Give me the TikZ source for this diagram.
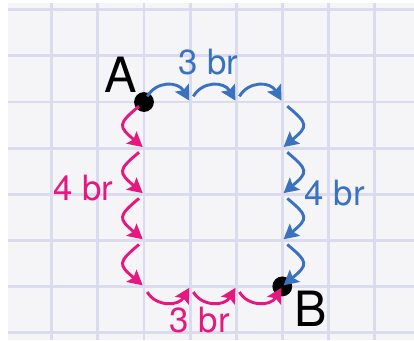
\documentclass[tikz,border=0pt]{standalone}
\usepackage{fontspec}
\setmainfont{TeX Gyre Heros}
\usetikzlibrary{positioning, arrows.meta}
\definecolor{PaperGray}{RGB}{245,245,248}
\definecolor{GridLilac}{RGB}{219,219,240}
\definecolor{RouteBlue}{RGB}{58,114,192}
\definecolor{RoutePink}{RGB}{230,24,128}

\begin{document}
\begin{tikzpicture}[
        hop/.style={
            -{Stealth[length=3.2mm, width=3.4mm, inset=0.6mm]},
            line width=1.8pt,
            shorten <=4pt,
            shorten >=1pt
        },
        flat/.style={bend left=60, looseness=1.35},
        flatdown/.style={bend right=60, looseness=1.3},
        deep/.style={bend left=50, looseness=1.9},
        deepleft/.style={bend right=50, looseness=1.9},
        dot/.style={circle, fill=black, inner sep=0pt, minimum size=4.3mm},
        letter/.style={font=\fontsize{30}{32}\selectfont},
        count/.style={font=\fontsize{21.5}{24}\selectfont}
    ]
    \useasboundingbox (-3.124,-5.163) rectangle (5.857,2.213);

    % Papier met ruitjes
    \fill[PaperGray] (-2.95,-5.163) rectangle (5.857,2.15);
    \foreach \x in {-2,...,5}
        \draw[GridLilac, line width=1.8pt] (\x,-5.163) -- (\x,2.15);
    \foreach \y in {-5,...,2}
        \draw[GridLilac, line width=1.8pt] (-2.95,\y) -- (5.857,\y);

    % Roosterpunten
    \foreach \i in {0,...,3} {
        \coordinate (top\i) at (\i,0);
        \coordinate (bot\i) at (\i,-4);
    }
    \foreach \j in {0,...,4} {
        \coordinate (left\j) at (0,-\j);
        \coordinate (right\j) at (3,-\j);
    }

    % Start en eind
    \node[dot] (A) at (top0) {};
    \node[dot] (B) at (bot3) {};
    \node[letter] (labA) at (-0.5,0.585) {A};
    \node[letter] (labB) at (3.62,-4.49) {B};

    % Blauwe route
    \foreach \i [count=\n] in {0,1,2}
        \draw[hop, RouteBlue] (top\i) to[flat] (top\n);
    \foreach \j [count=\n] in {0,...,3}
        \draw[hop, RouteBlue] (right\j) to[deep] (right\n);

    % Roze route
    \foreach \j [count=\n] in {0,...,3}
        \draw[hop, RoutePink] (left\j) to[deepleft] (left\n);
    \foreach \i [count=\n] in {0,1,2}
        \draw[hop, RoutePink] (bot\i) to[flatdown] (bot\n);

    % Aantallen
    \node[count, RouteBlue] (upper) at (1.39,0.87) {3 br};
    \node[count, RouteBlue] (side) at (4.14,-1.97) {4 br};
    \node[count, RoutePink] (wall) at (-1.32,-1.87) {4 br};
    \node[count, RoutePink] (floor) at (1.21,-4.73) {3 br};

\end{tikzpicture}
\end{document}
